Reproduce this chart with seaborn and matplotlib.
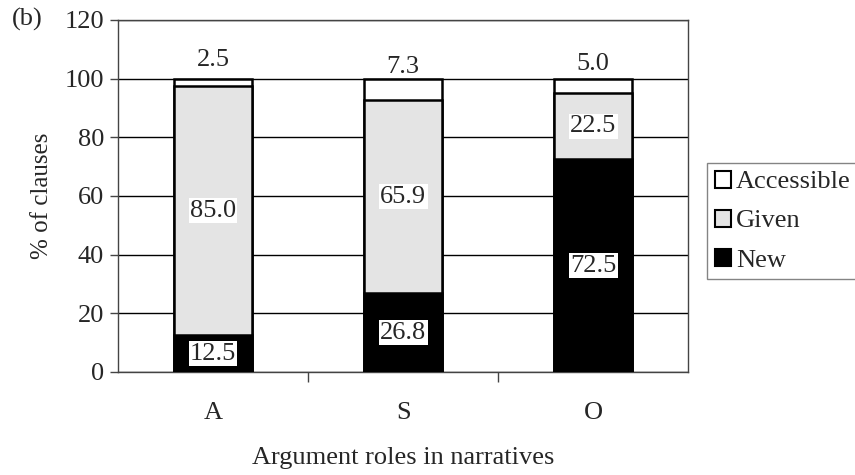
import pandas as pd
import matplotlib
matplotlib.use('Agg')
import matplotlib.pyplot as plt
from matplotlib.patches import Patch
from matplotlib.ticker import FixedLocator
import seaborn as sns

# data
roles = ['A', 'S', 'O']
new = [12.5, 26.8, 72.5]
given = [85.0, 65.9, 22.5]
accessible = [2.5, 7.3, 5.0]

df = pd.DataFrame({'role': roles, 'New': new, 'Given': given, 'Accessible': accessible})
df['new_top'] = df['New']
df['given_top'] = df['New'] + df['Given']
df['acc_top'] = df['given_top'] + df['Accessible']

sns.set_style('white')
plt.rcParams['font.family'] = ['Liberation Serif', 'DejaVu Serif']
fs = 19

fig = plt.figure(figsize=(8.55, 4.75), dpi=100)
ax = fig.add_axes([0.138, 0.217, 0.667, 0.741])

bw = 0.41
kw = dict(edgecolor='black', linewidth=1.8, width=bw, saturation=1, zorder=3)
# stacked by overdrawing cumulative totals
sns.barplot(data=df, x='role', y='acc_top', color='white', ax=ax, **kw)
sns.barplot(data=df, x='role', y='given_top', color='#e4e4e4', ax=ax, **kw)
sns.barplot(data=df, x='role', y='new_top', color='black', ax=ax, **kw)

box = dict(facecolor='white', edgecolor='none', pad=1.0)
for i, r in df.iterrows():
    ax.text(i, r['New'] / 2, f"{r['New']:.1f}", ha='center', va='center',
            fontsize=fs, bbox=box, zorder=5)
    ax.text(i, r['New'] + r['Given'] / 2, f"{r['Given']:.1f}", ha='center', va='center',
            fontsize=fs, bbox=box, zorder=5)
    # small segment: label pushed up above the bar
    ax.text(i, r['given_top'] + r['Accessible'] / 2 + 7.5, f"{r['Accessible']:.1f}",
            ha='center', va='center', fontsize=fs, zorder=2)

ax.set_ylim(0, 120)
ax.set_xlim(-0.5, 2.5)
ax.set_yticks(range(0, 121, 20))
ax.yaxis.grid(True, color='black', linewidth=1)
ax.set_axisbelow(True)
for s in ax.spines.values():
    s.set_color('#444444')
    s.set_linewidth(1)

ax.tick_params(axis='y', which='major', direction='out', length=6, width=1,
               color='#444444', labelsize=fs, left=True, pad=4)
ax.tick_params(axis='x', which='major', length=0, labelsize=fs, pad=22)
ax.xaxis.set_minor_locator(FixedLocator([0.5, 1.5]))
ax.tick_params(axis='x', which='minor', direction='out', length=7, width=1,
               color='#444444', bottom=True)

ax.set_xlabel('Argument roles in narratives', fontsize=fs, labelpad=16)
ax.set_ylabel('% of clauses', fontsize=18, labelpad=8)
fig.text(0.014, 0.958, '(b)', fontsize=fs, ha='left', va='center')

handles = [Patch(facecolor='white', edgecolor='black', linewidth=1.5, label='Accessible'),
           Patch(facecolor='#e4e4e4', edgecolor='black', linewidth=1.5, label='Given'),
           Patch(facecolor='black', edgecolor='black', linewidth=1.5, label='New')]
leg = ax.legend(handles=handles, loc='upper left', bbox_to_anchor=(1.033, 0.594),
                fontsize=fs, frameon=True, fancybox=False, handlelength=0.6,
                handleheight=0.6, handletextpad=0.2, borderpad=0.3, labelspacing=0.62,
                borderaxespad=0)
leg.get_frame().set_edgecolor('#666666')
leg.get_frame().set_linewidth(1)

fig.savefig('out.png', dpi=100)
